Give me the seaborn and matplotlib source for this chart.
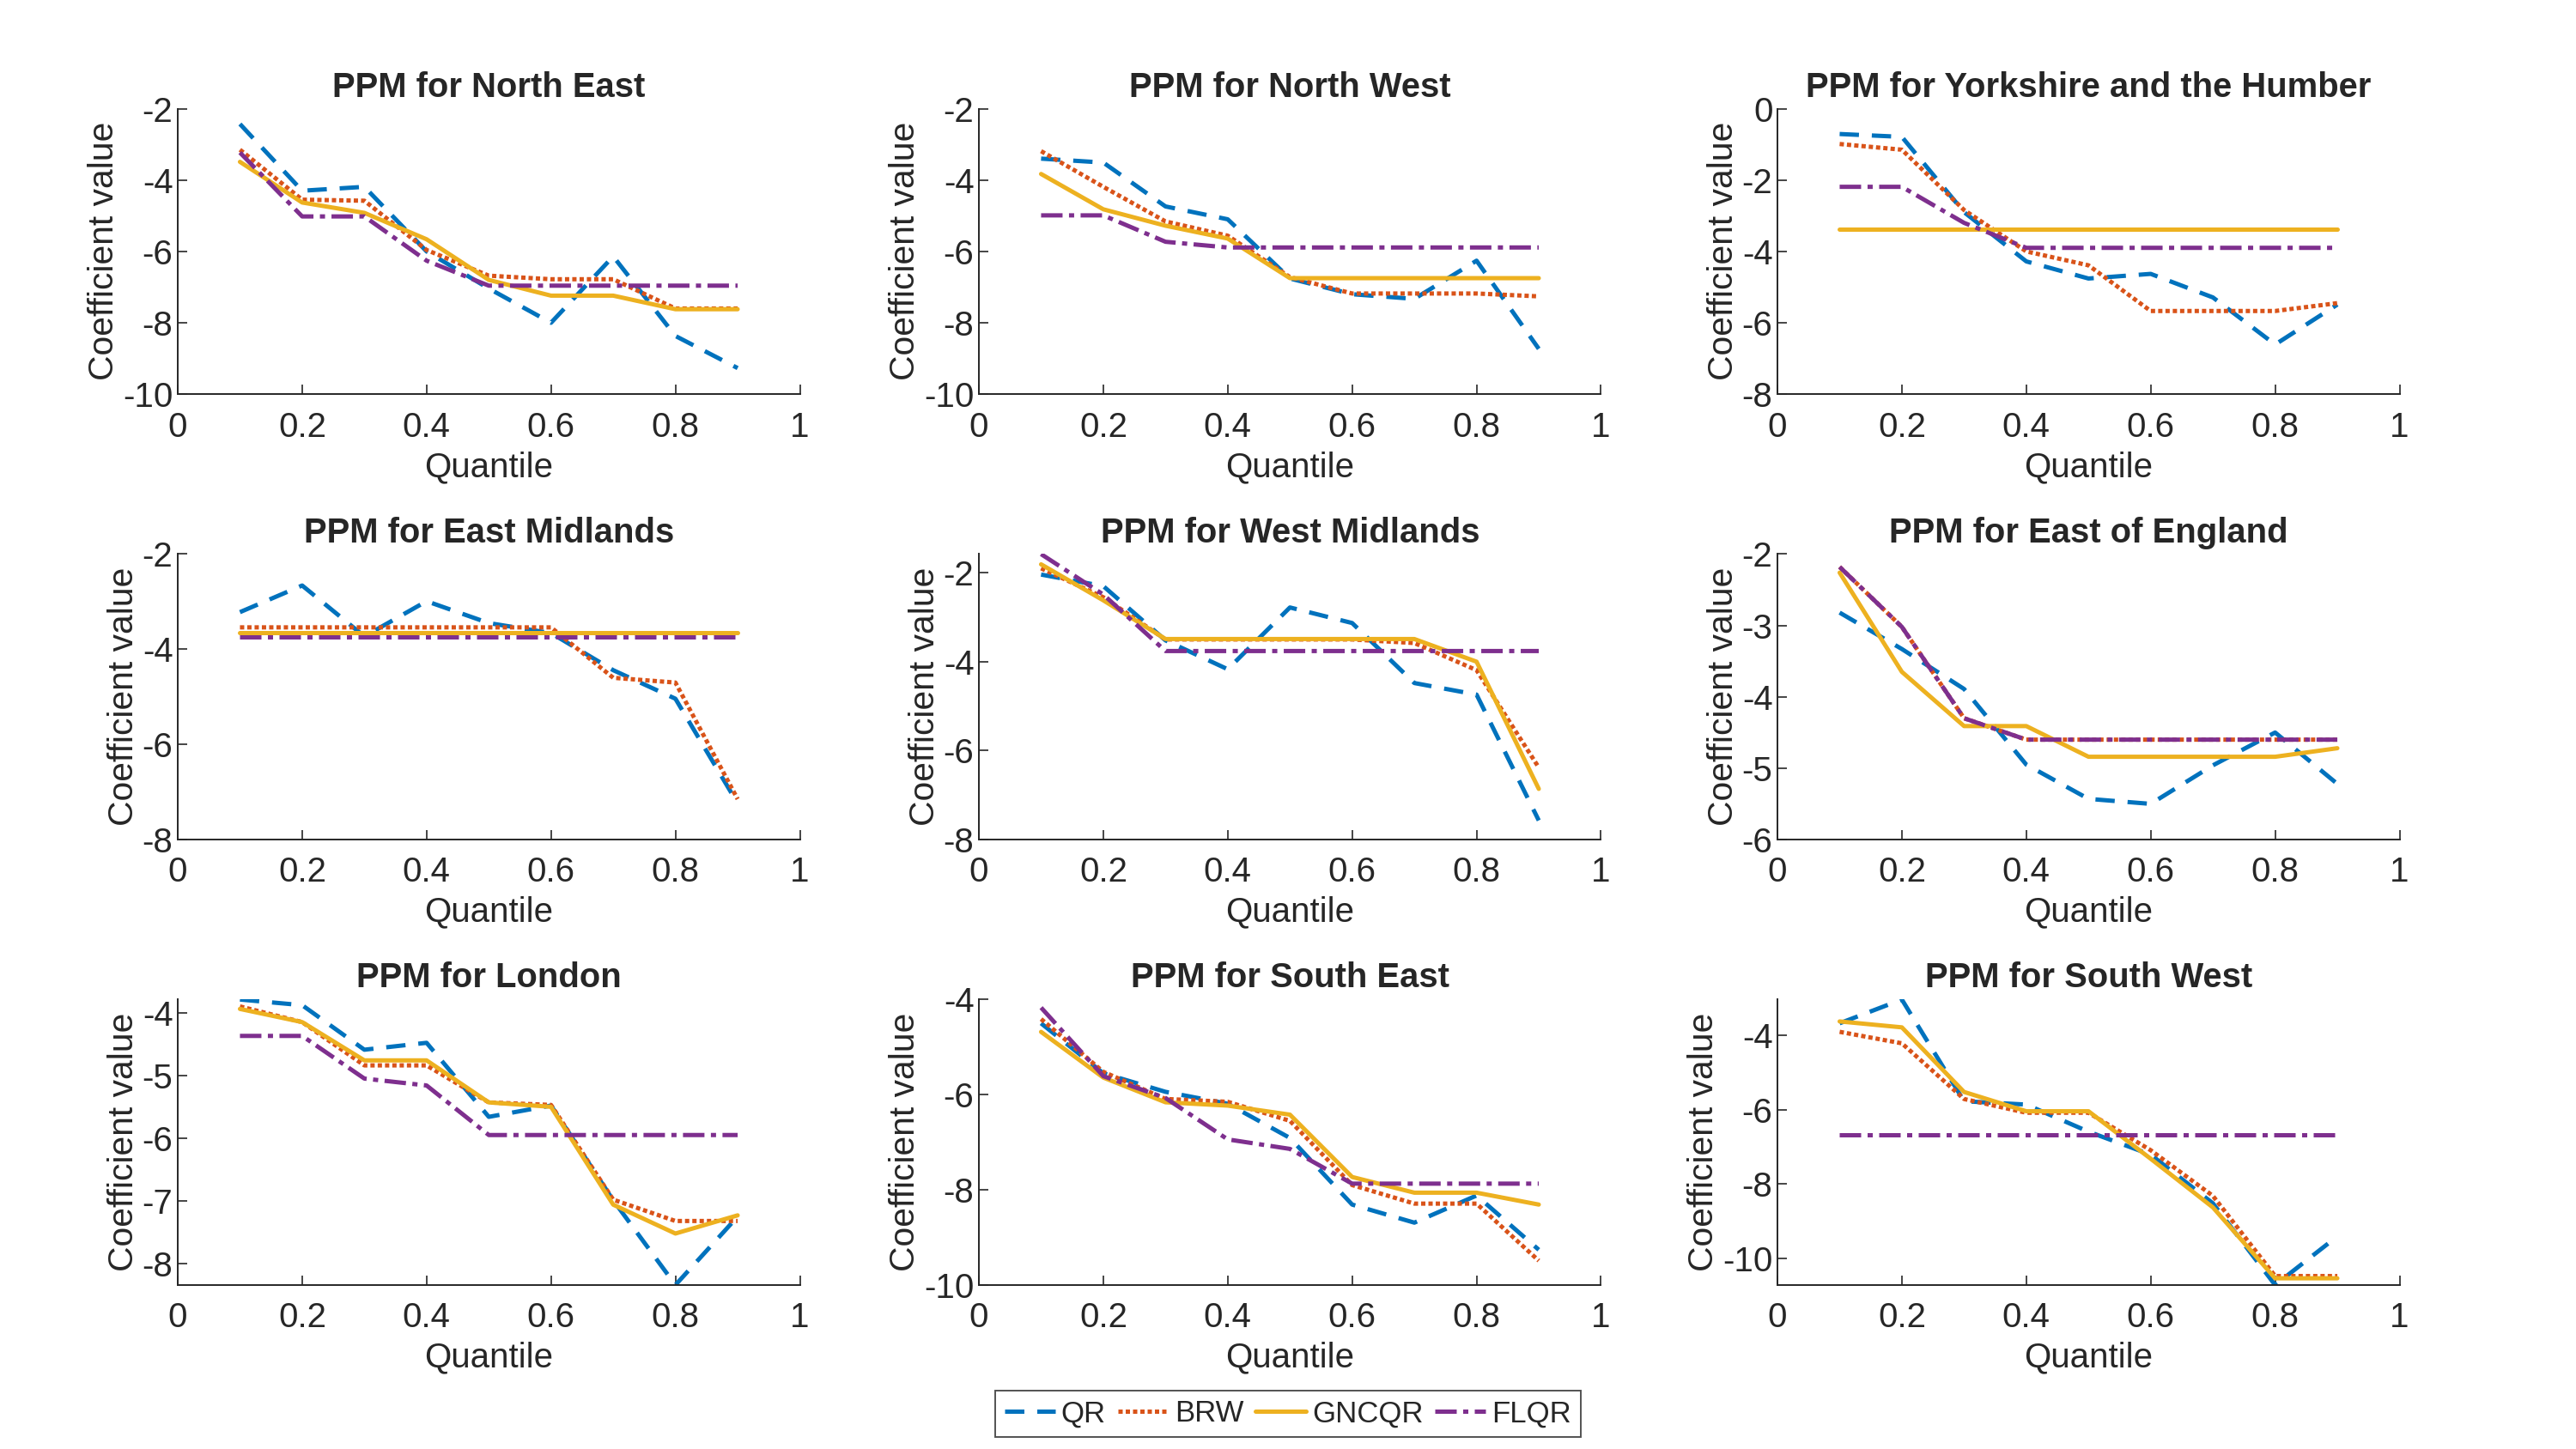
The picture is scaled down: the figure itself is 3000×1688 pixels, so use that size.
import numpy as np
import pandas as pd
import matplotlib
matplotlib.use("Agg")
import matplotlib.pyplot as plt
import seaborn as sns

# quantile grid and panel names
quantiles = [0.1, 0.2, 0.3, 0.4, 0.5, 0.6, 0.7, 0.8, 0.9]
regions = ["North East", "North West", "Yorkshire and the Humber",
           "East Midlands", "West Midlands", "East of England",
           "London", "South East", "South West"]
methods = ["QR", "BRW", "GNCQR", "FLQR"]

# coefficient values, one row per region
qr = [
    [-2.43, -4.30, -4.19, -6.00, -7.04, -8.00, -6.14, -8.37, -9.27],
    [-3.40, -3.51, -4.74, -5.10, -6.76, -7.20, -7.33, -6.26, -8.73],
    [-0.71, -0.79, -2.90, -4.28, -4.76, -4.63, -5.29, -6.61, -5.49],
    [-3.22, -2.66, -3.73, -2.99, -3.45, -3.66, -4.44, -5.04, -7.24],
    [-2.04, -2.30, -3.52, -4.17, -2.78, -3.13, -4.48, -4.74, -7.57],
    [-2.82, -3.33, -3.89, -4.95, -5.43, -5.50, -4.96, -4.50, -5.22],
    [-3.79, -3.88, -4.59, -4.48, -5.66, -5.48, -6.99, -8.34, -7.25],
    [-4.50, -5.55, -5.94, -6.19, -6.91, -8.31, -8.69, -8.12, -9.26],
    [-3.67, -3.03, -5.77, -5.86, -6.59, -7.21, -8.52, -10.72, -9.41],
]
brw = [
    [-3.15, -4.55, -4.58, -5.96, -6.68, -6.78, -6.78, -7.60, -7.60],
    [-3.19, -4.19, -5.16, -5.56, -6.72, -7.18, -7.18, -7.18, -7.26],
    [-0.99, -1.15, -2.84, -4.00, -4.39, -5.67, -5.67, -5.67, -5.45],
    [-3.54, -3.54, -3.54, -3.54, -3.54, -3.54, -4.60, -4.70, -7.15],
    [-1.90, -2.55, -3.50, -3.50, -3.50, -3.50, -3.58, -4.19, -6.38],
    [-2.18, -3.02, -4.30, -4.60, -4.60, -4.60, -4.60, -4.60, -4.60],
    [-3.90, -4.15, -4.84, -4.84, -5.43, -5.47, -6.98, -7.32, -7.32],
    [-4.41, -5.52, -6.09, -6.15, -6.55, -7.90, -8.29, -8.29, -9.49],
    [-3.90, -4.21, -5.71, -6.08, -6.08, -7.09, -8.32, -10.48, -10.48],
]
gncqr = [
    [-3.49, -4.63, -4.92, -5.66, -6.80, -7.24, -7.24, -7.62, -7.62],
    [-3.83, -4.82, -5.28, -5.64, -6.75, -6.75, -6.75, -6.75, -6.75],
    [-3.38, -3.38, -3.38, -3.38, -3.38, -3.38, -3.38, -3.38, -3.38],
    [-3.65, -3.65, -3.65, -3.65, -3.65, -3.65, -3.65, -3.65, -3.65],
    [-1.81, -2.62, -3.49, -3.49, -3.49, -3.49, -3.49, -4.00, -6.86],
    [-2.26, -3.65, -4.41, -4.41, -4.84, -4.84, -4.84, -4.84, -4.72],
    [-3.94, -4.15, -4.76, -4.76, -5.43, -5.50, -7.06, -7.52, -7.23],
    [-4.68, -5.64, -6.16, -6.23, -6.42, -7.73, -8.06, -8.06, -8.31],
    [-3.62, -3.78, -5.52, -6.04, -6.04, -7.32, -8.63, -10.54, -10.54],
]
flqr = [
    [-3.23, -5.02, -5.02, -6.26, -6.96, -6.96, -6.96, -6.96, -6.96],
    [-4.99, -4.99, -5.73, -5.89, -5.89, -5.89, -5.89, -5.89, -5.89],
    [-2.19, -2.19, -3.20, -3.90, -3.90, -3.90, -3.90, -3.90, -3.90],
    [-3.75, -3.75, -3.75, -3.75, -3.75, -3.75, -3.75, -3.75, -3.75],
    [-1.58, -2.49, -3.76, -3.76, -3.76, -3.76, -3.76, -3.76, -3.76],
    [-2.18, -3.02, -4.30, -4.60, -4.60, -4.60, -4.60, -4.60, -4.60],
    [-4.37, -4.37, -5.05, -5.16, -5.95, -5.95, -5.95, -5.95, -5.95],
    [-4.17, -5.61, -6.07, -6.94, -7.14, -7.87, -7.87, -7.87, -7.87],
    [-6.67, -6.67, -6.67, -6.67, -6.67, -6.67, -6.67, -6.67, -6.67],
]

# axis settings per panel (None = tight to data)
ylims = [(-10, -2), (-10, -2), (-8, 0), (-8, -2), None, (-6, -2), None, (-10, -4), None]
yticks = [[-10, -8, -6, -4, -2], [-10, -8, -6, -4, -2], [-8, -6, -4, -2, 0],
          [-8, -6, -4, -2], [-8, -6, -4, -2], [-6, -5, -4, -3, -2],
          [-8, -7, -6, -5, -4], [-10, -8, -6, -4], [-10, -8, -6, -4]]

colors = {"QR": "#0072BD", "BRW": "#D95319", "GNCQR": "#EDB120", "FLQR": "#7E2F8E"}
styles = {"QR": (0, (4.5, 3)), "BRW": (0, (1, 0.7)), "GNCQR": "-", "FLQR": (0, (5, 1.5, 1.2, 1.5))}

sns.set_style("ticks")
plt.rcParams["font.family"] = ["Liberation Sans", "DejaVu Sans"]
plt.rcParams["axes.unicode_minus"] = False
plt.rcParams["xtick.direction"] = "in"
plt.rcParams["ytick.direction"] = "in"

fig = plt.figure(figsize=(15, 8.44), dpi=200)
lefts = [0.069, 0.380, 0.690]
bottoms = [0.728, 0.4206, 0.1132]
w, h = 0.2415, 0.197

series = {"QR": qr, "BRW": brw, "GNCQR": gncqr, "FLQR": flqr}

for i, region in enumerate(regions):
    ax = fig.add_axes([lefts[i % 3], bottoms[i // 3], w, h])
    df = pd.DataFrame({"Quantile": quantiles * 4,
                       "value": sum([series[m][i] for m in methods], []),
                       "method": np.repeat(methods, len(quantiles))})
    for m in methods:
        sub = df[df["method"] == m]
        sns.lineplot(data=sub, x="Quantile", y="value", ax=ax, color=colors[m],
                     linestyle=styles[m], linewidth=1.8, label=m, legend=False)
    ax.set_xlim(0, 1)
    ax.set_xticks([0, 0.2, 0.4, 0.6, 0.8, 1])
    ax.set_xticklabels(["0", "0.2", "0.4", "0.6", "0.8", "1"], fontsize=14.5)
    if ylims[i] is None:
        ax.set_ylim(df["value"].min(), df["value"].max())
    else:
        ax.set_ylim(*ylims[i])
    ax.set_yticks(yticks[i])
    ax.set_yticklabels([str(t) for t in yticks[i]], fontsize=14.5)
    ax.set_title("PPM for " + region, fontsize=14.4, fontweight="bold", pad=5)
    ax.set_xlabel("Quantile", fontsize=14.5, color="#262626", labelpad=3)
    ax.set_ylabel("Coefficient value", fontsize=14.7, color="#262626", labelpad=1)
    ax.tick_params(axis="x", colors="#262626", length=4, width=0.6, pad=7)
    ax.tick_params(axis="y", colors="#262626", length=4, width=0.6, pad=2)
    for s in ["top", "right"]:
        ax.spines[s].set_visible(False)
    for s in ["left", "bottom"]:
        ax.spines[s].set_linewidth(0.7)
        ax.spines[s].set_color("#262626")

handles, labels = ax.get_legend_handles_labels()
leg = fig.legend(handles, labels, loc="center", bbox_to_anchor=(0.5, 0.0243), ncol=4,
                 fontsize=12.5, frameon=True, fancybox=False,
                 handlelength=1.7, handletextpad=0.2, columnspacing=0.4, borderpad=0.3,
                 borderaxespad=0)
leg.get_frame().set_edgecolor("#262626")
leg.get_frame().set_linewidth(0.7)

fig.savefig("out.png", dpi=200, facecolor="white")
